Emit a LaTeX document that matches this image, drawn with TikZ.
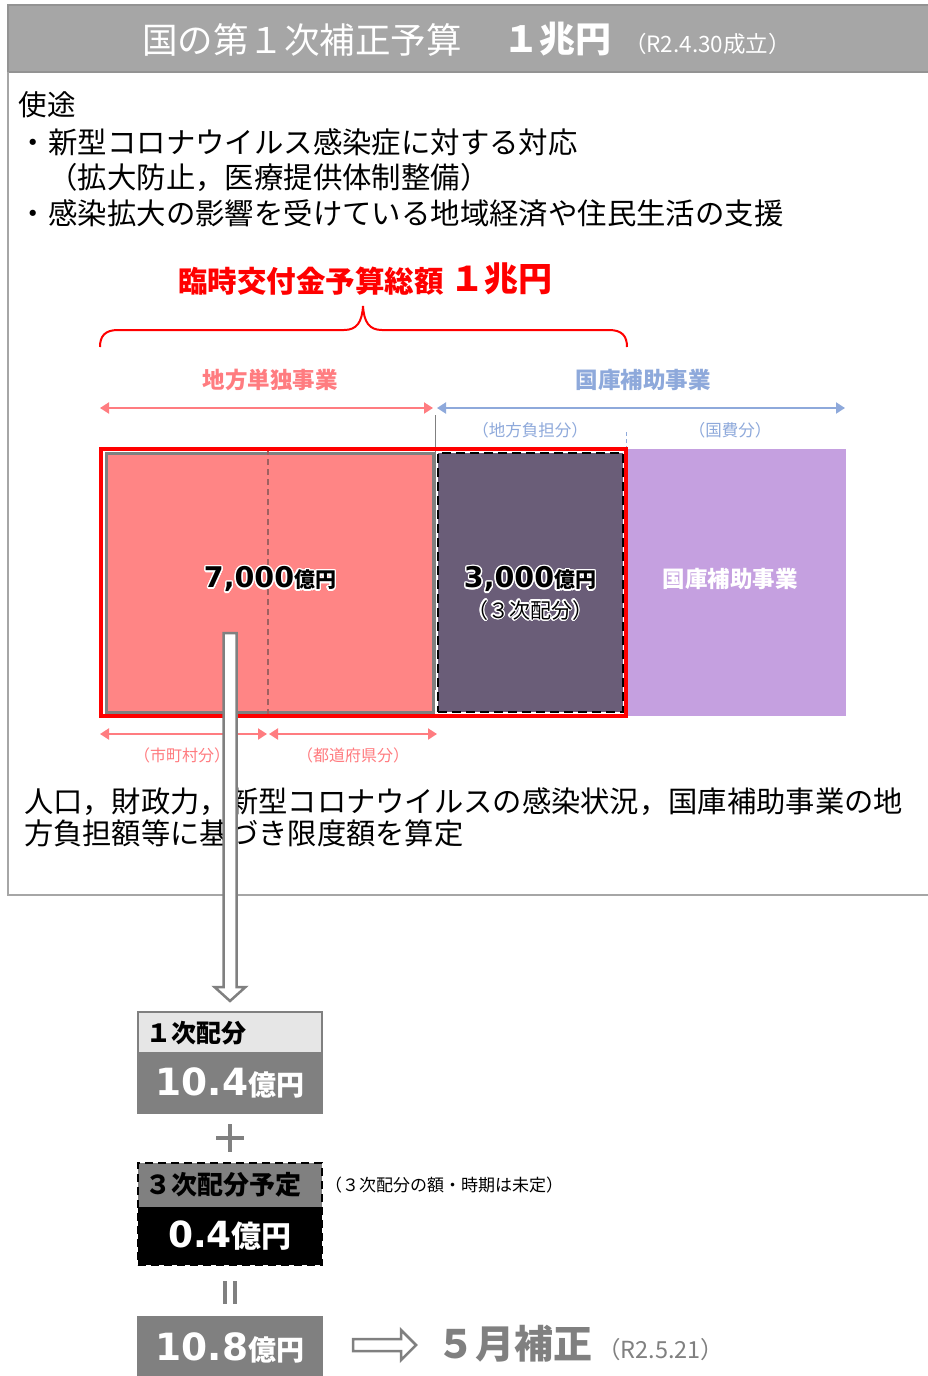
\documentclass[tikz,border=0pt]{standalone}
\usepackage{fontspec}
\setmainfont{Noto Sans CJK JP}
\newfontfamily\numfont{DejaVu Sans}
\usepackage{contour}
\contourlength{1.4pt}
\usetikzlibrary{arrows.meta}
\definecolor{hdrgray}{RGB}{166,166,166}
\definecolor{framegray}{RGB}{166,166,166}
\definecolor{bred}{RGB}{255,0,0}
\definecolor{pinkfill}{RGB}{255,133,133}
\definecolor{pinkln}{RGB}{255,124,128}
\definecolor{bluel}{RGB}{142,169,219}
\definecolor{purp}{RGB}{197,160,224}
\definecolor{darkbox}{RGB}{106,93,120}
\definecolor{midgray}{RGB}{128,128,128}
\definecolor{lgray}{RGB}{230,230,230}
\definecolor{dashred}{RGB}{160,96,96}
\newcommand\fs[1]{\fontsize{#1}{#1}\selectfont}
\begin{document}
\begin{tikzpicture}[x=1pt,y=-1pt,
  every node/.style={inner sep=0pt,outer sep=0pt},
  lefttext/.style={anchor=west},
  pinkarrow/.style={pinkln,line width=2,{Triangle[length=9pt,width=11pt]}-{Triangle[length=9pt,width=11pt]}},
  bluearrow/.style={bluel,line width=2,{Triangle[length=9pt,width=11pt]}-{Triangle[length=9pt,width=11pt]}},
  hollowarrow/.style={midgray,line width=2.5,fill=white,line join=miter}]
\useasboundingbox (0,0) rectangle (928,1376);
\fill[white] (0,0) rectangle (928,1376);

% header
\node[fill=hdrgray,draw=midgray!85,line width=2,minimum width=930,minimum height=67,anchor=north west] (hdr) at (8,5) {};
\node[lefttext,text=white,font=\fs{35.5}] (h1) at (142,40) {国の第１次補正予算};
\node[lefttext,text=white,font=\fs{36}\bfseries] (h2) at (503,39) {１兆円};
\node[lefttext,text=white,font=\fs{22.5}] (h3) at (624,44) {（R2.4.30成立）};

% content frame
\draw[framegray,line width=2] (935,895) -- (8,895) -- (8,72);

% usage text
\node[lefttext,font=\fs{28.5}] (u0) at (19,105) {使途};
\node[lefttext,font=\fs{29.4}] (u1) at (19,142) {・新型コロナウイルス感染症に対する対応};
\node[lefttext,font=\fs{29.4}] (u2) at (19,177) {　（拡大防止，医療提供体制整備）};
\node[lefttext,font=\fs{29.4}] (u3) at (19,213) {・感染拡大の影響を受けている地域経済や住民生活の支援};

% red title
\node[lefttext,text=bred,font=\fs{29.5}\bfseries] (t1) at (178,281) {臨時交付金予算総額};
\node[lefttext,text=bred,font=\fs{34}\bfseries] (t2) at (450,279) {１兆円};

% brace
\draw[bred,line width=2]
  (100,347) .. controls (100,336) and (105,330) .. (118,330) -- (344,330)
  .. controls (357,330) and (362,322) .. (363,306)
  .. controls (364,322) and (369,330) .. (382,330) -- (609,330)
  .. controls (622,330) and (627,336) .. (627,347);

% labels above
\node[text=pinkln,font=\fs{22.5}\bfseries] (lt) at (270,380) {地方単独事業};
\node[text=bluel,font=\fs{22.5}\bfseries] (kt) at (643,380) {国庫補助事業};
\coordinate (a1) at (100,408);
\coordinate (a2) at (433,408);
\coordinate (b1) at (437,408);
\coordinate (b2) at (845,408);
\draw[pinkarrow] (a1) -- (a2);
\draw[bluearrow] (b1) -- (b2);
\node[text=bluel,font=\fs{16.5}] (s1) at (530,430) {（地方負担分）};
\node[text=bluel,font=\fs{16.5}] (s2) at (730,430) {（国費分）};
\coordinate (gl1) at (435,415);
\coordinate (gl2) at (435,690);
\draw[midgray,line width=1] (gl1) -- (gl2);
\coordinate (bd1) at (626,432);
\coordinate (bd2) at (626,449);
\draw[bluel,line width=1,dash pattern=on 4pt off 3pt] (bd1) -- (bd2);

% boxes
\node[fill=purp,minimum width=219,minimum height=267] (purpbox) at (736.5,582.5) {};
\node[fill=pinkfill,draw=midgray,line width=3,minimum width=327,minimum height=259] (pinkbox) at (269.5,582.5) {};
\node[fill=darkbox,draw=black,line width=2.5,dash pattern=on 9pt off 5pt,minimum width=185,minimum height=259] (darkb) at (530.5,582.5) {};
\coordinate (dl1) at (268,449);
\coordinate (dl2) at (268,717);
\draw[dashred,line width=1.2,dash pattern=on 6pt off 4pt] (dl1) -- (dl2);
\node[draw=bred,line width=4,minimum width=525,minimum height=267] (redbox) at (363.5,582) {};

% box texts
\node (v7) at (270,580) {\contour{white}{{\numfont\bfseries\fs{28.5}7,000}{\bfseries\fs{21}億円}}};
\node (v3) at (530,580) {\contour{white}{{\numfont\bfseries\fs{28.5}3,000}{\bfseries\fs{21}億円}}};
\node (v3b) at (530,611) {\contour{white}{\fs{21}（３次配分）}};
\node[text=white,font=\fs{22.5}\bfseries] (ptxt) at (730,579) {国庫補助事業};

% lower pink arrows
\coordinate (c1) at (100,734);
\coordinate (c2) at (267,734);
\coordinate (c3) at (269,734);
\coordinate (c4) at (437,734);
\draw[pinkarrow] (c1) -- (c2);
\draw[pinkarrow] (c3) -- (c4);
\node[text=pinkln,font=\fs{16}] (m1) at (182,755) {（市町村分）};
\node[text=pinkln,font=\fs{16}] (m2) at (353,755) {（都道府県分）};

% bottom explanation
\node[lefttext,font=\fs{29.3}] (e1) at (24,802) {人口，財政力，新型コロナウイルスの感染状況，国庫補助事業の地};
\node[lefttext,font=\fs{29.3}] (e2) at (24,833) {方負担額等に基づき限度額を算定};

% down hollow arrow
\draw[hollowarrow] (223.5,633) -- (236.5,633) -- (236.5,987) -- (245.5,987) -- (230,1001) -- (214.5,987) -- (223.5,987) -- cycle;

% first allocation
\node[fill=lgray,draw=midgray,line width=2.5,minimum width=184,minimum height=41] (p1a) at (230,1032.5) {};
\node[fill=midgray,draw=midgray,line width=2.5,minimum width=184,minimum height=59] (p1b) at (230,1083) {};
\node[lefttext,font=\fs{25}\bfseries] (p1t) at (146,1033) {１次配分};
\node[text=white] (p1v) at (230,1083) {{\numfont\bfseries\fs{37.5}10.4}{\bfseries\fs{28}億円}};

% plus
\draw[midgray,line width=4.5] (216,1138) -- (244,1138);
\draw[midgray,line width=4.5] (230,1124) -- (230,1152);

% third allocation
\node[fill=midgray,minimum width=184,minimum height=44] (p3a) at (230,1185) {};
\node[fill=black,minimum width=184,minimum height=58] (p3b) at (230,1236) {};
\node[draw=black,line width=2.5,dash pattern=on 8pt off 5pt,minimum width=184,minimum height=102] (p3f) at (230,1214) {};
\node[lefttext,font=\fs{26}\bfseries] (p3t) at (145,1185) {３次配分予定};
\node[text=white] (p3v) at (230,1236) {{\numfont\bfseries\fs{36}0.4}{\bfseries\fs{30}億円}};
\node[lefttext,font=\fs{17}] (note) at (325,1185) {（３次配分の額・時期は未定）};

% equals
\draw[midgray,line width=4.5] (225,1281) -- (225,1304);
\draw[midgray,line width=4.5] (235,1281) -- (235,1304);

% total
\node[fill=midgray,minimum width=186,minimum height=70,anchor=north] (tot) at (230,1316) {};
\node[text=white] (totv) at (230,1348) {{\numfont\bfseries\fs{37.5}10.8}{\bfseries\fs{28}億円}};

% right hollow arrow
\draw[hollowarrow] (353,1339) -- (401,1339) -- (401,1330) -- (416,1345) -- (401,1360) -- (401,1351) -- (353,1351) -- cycle;
\node[lefttext,text=midgray,font=\fs{39}\bfseries] (may) at (436,1344) {５月補正};
\node[lefttext,text=midgray,font=\fs{23.5}] (mayd) at (597,1350) {（R2.5.21）};
\end{tikzpicture}
\end{document}
